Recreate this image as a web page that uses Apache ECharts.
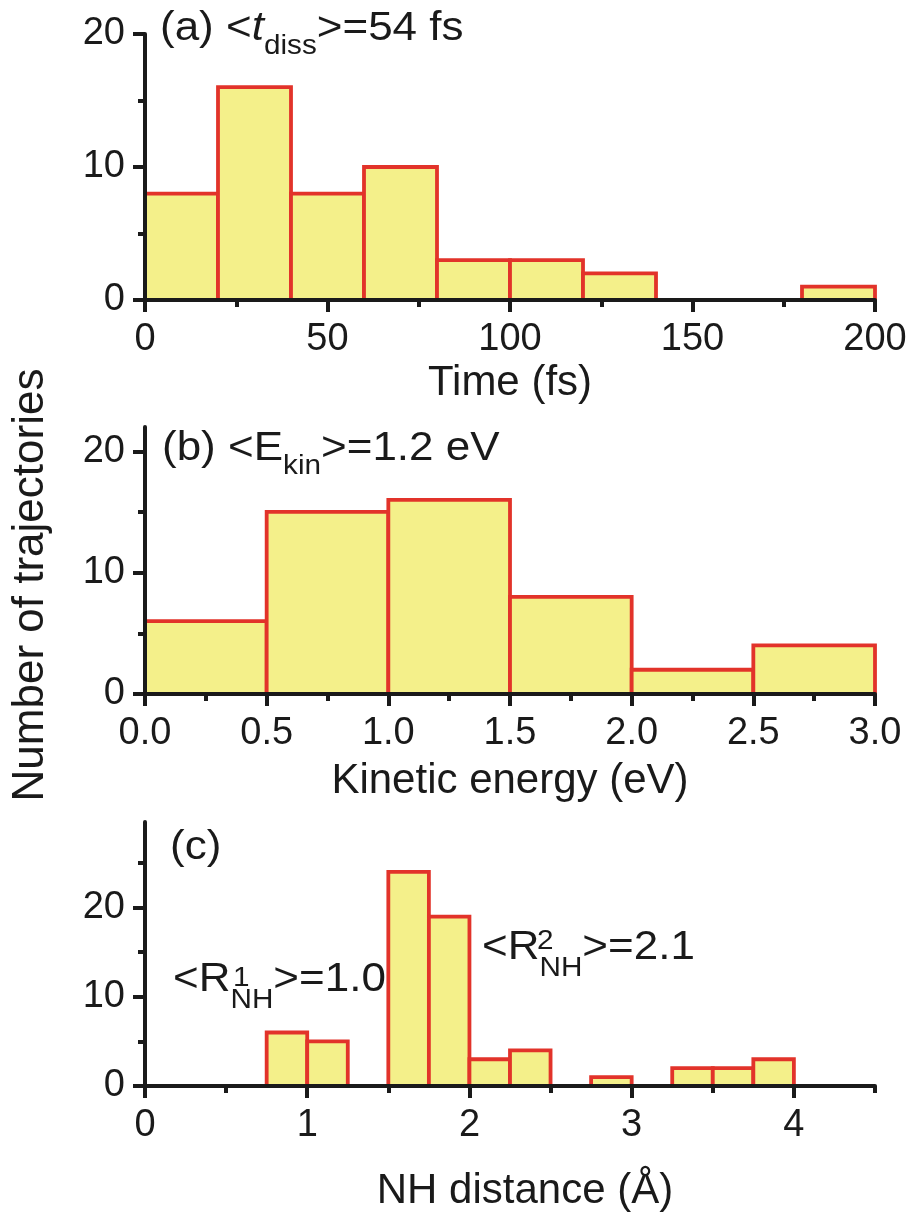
<!DOCTYPE html>
<html><head><meta charset="utf-8">
<script src="https://cdn.jsdelivr.net/npm/echarts@6/dist/echarts.min.js"></script>
<style>html,body{margin:0;padding:0;background:#fff}#c{width:913px;height:1215px}</style>
</head><body><div id="c"></div>
<script>
// ---- data ----
const timeEdges = [0, 20, 40, 60, 80, 100, 120, 140, 160, 180, 200];
const timeCounts = [8, 16, 8, 10, 3, 3, 2, 0, 0, 1];
const energyEdges = [0, 0.5, 1.0, 1.5, 2.0, 2.5, 3.0];
const energyCounts = [6, 15, 16, 8, 2, 4];
const nhEdges = [0, 0.25, 0.5, 0.75, 1.0, 1.25, 1.5, 1.75, 2.0, 2.25, 2.5, 2.75, 3.0, 3.25, 3.5, 3.75, 4.0];
const nhCounts = [0, 0, 0, 6, 5, 0, 24, 19, 3, 4, 0, 1, 0, 2, 2, 3];

const timeTicks = [0, 50, 100, 150, 200];
const timeMinor = [25, 75, 125, 175];
const energyTicks = [0, 0.5, 1.0, 1.5, 2.0, 2.5, 3.0];
const energyMinor = [0.25, 0.75, 1.25, 1.75, 2.25, 2.75];
const nhTicks = [0, 1, 2, 3, 4];
const nhMinor = [0.5, 1.5, 2.5, 3.5, 4.5];
const countTicks = [0, 10, 20];
const countMinorAB = [5, 15];
const countMinorC = [5, 15, 25];

const xNames = ['Time (fs)', 'Kinetic energy (eV)', 'NH distance (Å)'];
const yName = 'Number of trajectories';

// ---- style ----
const FONT = '"Liberation Sans", Arial, Helvetica, sans-serif';
const INK = '#1a1a1a';
const FILL = '#f4f08a';
const EDGE = '#e2332a';
const AXW = 4;

const panels = [
  {grid: {left: 145, top: 34, width: 730, height: 266}, edges: timeEdges, counts: timeCounts,
   xmin: 0, xmax: 200, xint: 50, xt: timeTicks, xm: timeMinor, ymax: 20, ym: countMinorAB,
   fmt: v => String(v), nameGap: 62},
  {grid: {left: 145, top: 427, width: 730, height: 267}, edges: energyEdges, counts: energyCounts,
   xmin: 0, xmax: 3, xint: 0.5, xt: energyTicks, xm: energyMinor, ymax: 22, ym: countMinorAB,
   fmt: v => Number(v).toFixed(1), nameGap: 66},
  {grid: {left: 145, top: 822, width: 730, height: 264}, edges: nhEdges, counts: nhCounts,
   xmin: 0, xmax: 4.5, xint: 1, xt: nhTicks, xm: nhMinor, ymax: 29.6, ym: countMinorC,
   fmt: v => String(v), nameGap: 84}
];

const grids = [], xAxes = [], yAxes = [], series = [];
panels.forEach((p, i) => {
  grids.push(Object.assign({containLabel: false}, p.grid));
  xAxes.push({
    type: 'value', gridIndex: i, position: 'bottom', min: p.xmin, max: p.xmax, interval: p.xint, z: 5,
    name: xNames[i], nameLocation: 'middle', nameGap: p.nameGap,
    nameTextStyle: {fontSize: 42, fontFamily: FONT, color: INK, padding: i === 2 ? [0, 0, 0, 30] : 0},
    axisLine: {show: true, onZero: false, lineStyle: {color: INK, width: AXW}},
    axisTick: {show: true, inside: false, length: 12, customValues: p.xt, lineStyle: {color: INK, width: AXW}},
    axisLabel: {show: true, margin: 21, customValues: p.xt, fontSize: 38, fontFamily: FONT, color: INK, formatter: p.fmt},
    splitLine: {show: false}
  });
  xAxes.push({
    type: 'value', gridIndex: i, position: 'bottom', min: p.xmin, max: p.xmax, z: 5,
    axisLine: {show: false, onZero: false},
    axisTick: {show: true, inside: false, length: 7, customValues: p.xm, lineStyle: {color: INK, width: AXW}},
    axisLabel: {show: false}, splitLine: {show: false}
  });
  yAxes.push({
    type: 'value', gridIndex: i, position: 'left', min: 0, max: p.ymax, interval: 10, z: 5,
    axisLine: {show: true, onZero: false, lineStyle: {color: INK, width: AXW}},
    axisTick: {show: true, inside: false, length: 12, customValues: countTicks, lineStyle: {color: INK, width: AXW}},
    axisLabel: {show: true, margin: 20, customValues: countTicks, fontSize: 38, fontFamily: FONT, color: INK},
    splitLine: {show: false}
  });
  yAxes.push({
    type: 'value', gridIndex: i, position: 'left', min: 0, max: p.ymax, z: 5,
    axisLine: {show: false, onZero: false},
    axisTick: {show: true, inside: false, length: 7, customValues: p.ym, lineStyle: {color: INK, width: AXW}},
    axisLabel: {show: false}, splitLine: {show: false}
  });
  const data = p.counts.map((c, k) => [p.edges[k], p.edges[k + 1], c]);
  series.push({
    type: 'custom', xAxisIndex: 2 * i, yAxisIndex: 2 * i, clip: false, z: 2,
    encode: {x: [0, 1], y: 2},
    data: data,
    renderItem: function (params, api) {
      const x0 = api.value(0), x1 = api.value(1), c = api.value(2);
      if (!c) return null;
      const a = api.coord([x0, c]);
      const b = api.coord([x1, 0]);
      return {type: 'rect', shape: {x: a[0], y: a[1], width: b[0] - a[0], height: b[1] - a[1]},
        style: {fill: FILL, stroke: EDGE, lineWidth: 3.8}};
    }
  });
});

// ---- annotations ----
const rich = {
  m: {fontSize: 40, fontFamily: FONT, fill: INK, lineHeight: 44, verticalAlign: 'middle'},
  mi: {fontSize: 40, fontFamily: FONT, fontStyle: 'italic', fill: INK, lineHeight: 44, verticalAlign: 'middle'},
  s: {fontSize: 27, fontFamily: FONT, fill: INK, lineHeight: 27, padding: [36, 0, 0, 0], verticalAlign: 'middle'},
  sc: {fontSize: 27, fontFamily: FONT, fill: INK, lineHeight: 27, padding: [42, 0, 0, 0], verticalAlign: 'middle'}
};
function ann(x, y, text) {
  return {type: 'text', x: x, y: y, scaleX: 1.1, z: 10,
    style: {x: 0, y: 0, text: text, rich: rich, fill: INK, align: 'left', verticalAlign: 'top',
      textAlign: 'left', textVerticalAlign: 'top'}};
}
function plain(x, y, text, size) {
  return {type: 'text', x: x, y: y, scaleX: 1.1, z: 10,
    style: {x: 0, y: 0, text: text, fontSize: size, fontFamily: FONT, fill: INK,
      align: 'left', verticalAlign: 'middle', textAlign: 'left', textVerticalAlign: 'middle'}};
}
const graphic = [
  ann(160, 7, '{m|(a) <}{mi|t}{s|diss}{m|>=54 fs}'),
  ann(162, 427, '{m|(b) <E}{s|kin}{m|>=1.2 eV}'),
  plain(170, 848, '(c)', 40),
  ann(173, 958, '{m|<R}{sc|NH}{m|>=1.0}'),
  plain(233, 979, '1', 27),
  ann(482, 926, '{m|<R}{sc|NH}{m|>=2.1}'),
  plain(537, 942, '2', 27),
  {type: 'text', x: 31, y: 585, rotation: Math.PI / 2, z: 10,
    style: {text: yName, fontSize: 44, fontFamily: FONT, fill: INK, align: 'center', verticalAlign: 'middle',
      textAlign: 'center', textVerticalAlign: 'middle'}}
];

const chart = echarts.init(document.getElementById('c'), null, {renderer: 'canvas'});
chart.setOption({
  backgroundColor: '#ffffff', animation: false,
  grid: grids, xAxis: xAxes, yAxis: yAxes, series: series, graphic: graphic
});
</script></body></html>
